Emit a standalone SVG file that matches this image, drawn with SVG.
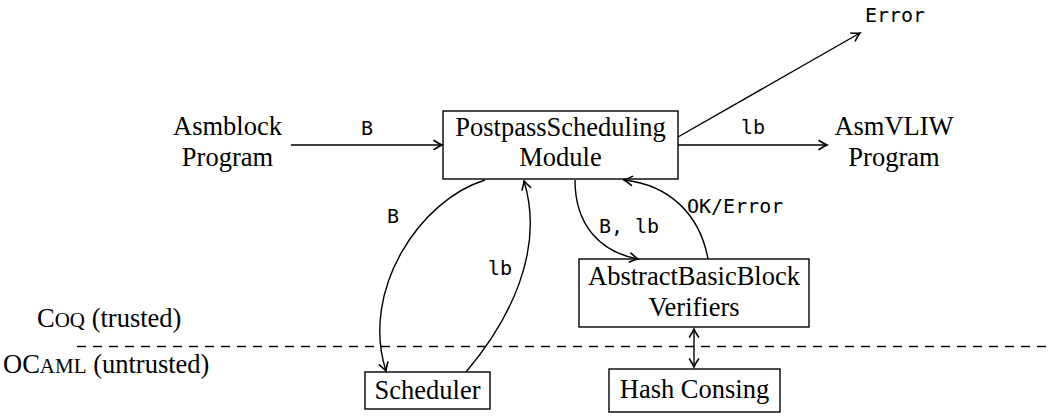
<svg xmlns="http://www.w3.org/2000/svg" width="1048" height="416" viewBox="0 0 1048 416">
<style>
.serif{font-family:"Liberation Serif","Times New Roman",serif;font-size:26.5px;fill:#000}
.mono{font-family:"DejaVu Sans Mono","Liberation Mono",monospace;font-size:20px;fill:#000}
.box{fill:#fff;stroke:#000;stroke-width:1.4}
.edge{fill:none;stroke:#000;stroke-width:1.4}
.sc{font-variant:small-caps;font-size:30px}
</style>
<defs>
<marker id="arr" markerUnits="userSpaceOnUse" markerWidth="14" markerHeight="14" viewBox="-10 -7 14 14" refX="0" refY="0" orient="auto-start-reverse">
<path d="M -8 -4.5 Q -3 -1.2 0 0 Q -3 1.2 -8 4.5" fill="none" stroke="#000" stroke-width="1.6" stroke-linecap="round"/>
</marker>
</defs>
<rect width="1048" height="416" fill="#fff"/>

<g id="labels-side">
<text class="serif" x="37" y="327">C<tspan class="sc">oq</tspan> (trusted)</text>
<text class="serif" x="3" y="373">OC<tspan class="sc">aml</tspan> (untrusted)</text>
<line x1="77" y1="346.5" x2="1048" y2="346.5" stroke="#000" stroke-width="1.3" stroke-dasharray="9 7"/>
</g>

<g id="asmblock">
<text class="serif" x="227.5" y="135" text-anchor="middle">Asmblock</text>
<text class="serif" x="227.5" y="166" text-anchor="middle">Program</text>
</g>

<g id="asmvliw">
<text class="serif" x="894" y="135" text-anchor="middle">AsmVLIW</text>
<text class="serif" x="894" y="166" text-anchor="middle">Program</text>
</g>

<g id="error">
<text class="mono" x="895" y="22" text-anchor="middle">Error</text>
</g>

<g id="postpass">
<rect class="box" x="443" y="111" width="235" height="68"/>
<text class="serif" x="560.5" y="136" text-anchor="middle">PostpassScheduling</text>
<text class="serif" x="560.5" y="166" text-anchor="middle">Module</text>
</g>

<g id="abb">
<rect class="box" x="579" y="259" width="230" height="68"/>
<text class="serif" x="694" y="285" text-anchor="middle">AbstractBasicBlock</text>
<text class="serif" x="694" y="316" text-anchor="middle">Verifiers</text>
</g>

<g id="scheduler">
<rect class="box" x="365" y="372" width="125" height="37"/>
<text class="serif" x="427.5" y="399" text-anchor="middle">Scheduler</text>
</g>

<g id="hashconsing">
<rect class="box" x="609" y="369" width="171" height="43"/>
<text class="serif" x="694.5" y="398" text-anchor="middle">Hash Consing</text>
</g>

<g id="connectors">
<line class="edge" x1="291" y1="145" x2="442" y2="145" marker-end="url(#arr)"/>
<text class="mono" x="367" y="135" text-anchor="middle">B</text>
<line class="edge" x1="678" y1="145" x2="827" y2="145" marker-end="url(#arr)"/>
<text class="mono" x="753" y="134" text-anchor="middle">lb</text>
<line class="edge" x1="678" y1="137" x2="860" y2="33" marker-end="url(#arr)"/>
<path class="edge" d="M 485 180 C 420 200, 360 290, 386 371" marker-end="url(#arr)"/>
<text class="mono" x="393" y="223" text-anchor="middle">B</text>
<path class="edge" d="M 466 372 C 510 320, 545 250, 524 181" marker-end="url(#arr)"/>
<text class="mono" x="500" y="275" text-anchor="middle">lb</text>
<path class="edge" d="M 575 180 C 575 225, 600 252, 638 259" marker-end="url(#arr)"/>
<text class="mono" x="629" y="233" text-anchor="middle">B, lb</text>
<path class="edge" d="M 708 259 C 700 215, 670 185, 624 180" marker-end="url(#arr)"/>
<text class="mono" x="687" y="213">OK/Error</text>
<line class="edge" x1="694" y1="329" x2="694" y2="367" marker-start="url(#arr)" marker-end="url(#arr)"/>
</g>
</svg>
